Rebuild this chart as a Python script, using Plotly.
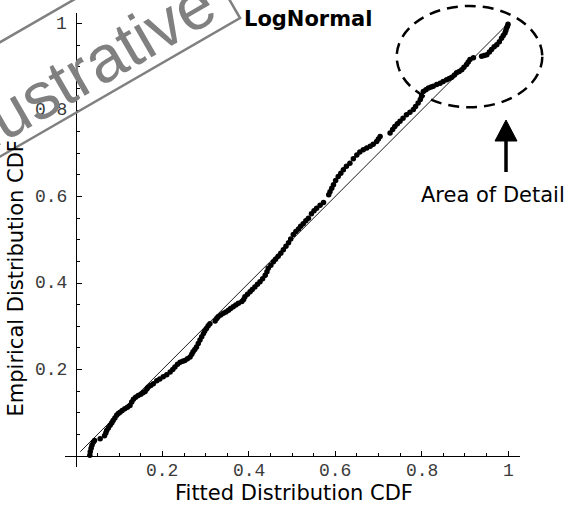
import plotly.graph_objects as go

# Probability-probability plot: empirical CDF vs fitted LogNormal CDF
fitted_cdf = [
    0.032, 0.033, 0.035, 0.037, 0.040, 0.043, 0.056, 0.066, 0.069, 0.071,
    0.075, 0.079, 0.083, 0.086, 0.090, 0.094, 0.098, 0.102, 0.107, 0.113,
    0.119, 0.125, 0.129, 0.133, 0.138, 0.144, 0.150, 0.155, 0.160, 0.164,
    0.167, 0.173, 0.179, 0.187, 0.194, 0.202, 0.210, 0.218, 0.224, 0.229,
    0.235, 0.241, 0.247, 0.252, 0.258, 0.264, 0.268, 0.271, 0.275, 0.279,
    0.283, 0.287, 0.291, 0.295, 0.298, 0.302, 0.306, 0.310,
    0.322, 0.326, 0.329, 0.335, 0.341, 0.347, 0.353, 0.358, 0.364, 0.370,
    0.376, 0.384, 0.388, 0.391, 0.397, 0.403, 0.408, 0.414, 0.420, 0.426,
    0.432, 0.438, 0.442, 0.445, 0.451, 0.457, 0.462, 0.468, 0.474, 0.480,
    0.486, 0.492, 0.497, 0.503, 0.509, 0.515, 0.520, 0.526, 0.532, 0.538,
    0.545, 0.551, 0.557, 0.565, 0.573,
    0.585, 0.588, 0.592, 0.596, 0.601, 0.607, 0.613, 0.619, 0.626, 0.634,
    0.642, 0.650, 0.657, 0.665, 0.673, 0.681, 0.688, 0.696, 0.700, 0.704,
    0.727, 0.733, 0.738, 0.744, 0.750, 0.757, 0.765, 0.773, 0.781, 0.786,
    0.792, 0.797, 0.800, 0.804, 0.810, 0.816, 0.822, 0.827, 0.835, 0.843,
    0.850, 0.858, 0.864, 0.870, 0.876, 0.881, 0.887, 0.893, 0.898, 0.904,
    0.908, 0.912, 0.920,
    0.939, 0.945, 0.951, 0.957, 0.962, 0.968, 0.974, 0.980, 0.985, 0.989,
    0.993, 0.995, 0.997, 0.999, 1.000,
]
empirical_cdf = [
    0.002, 0.010, 0.018, 0.025, 0.032, 0.036, 0.040, 0.047, 0.053, 0.059,
    0.065, 0.071, 0.077, 0.082, 0.088, 0.094, 0.098, 0.101, 0.105, 0.109,
    0.113, 0.117, 0.125, 0.131, 0.136, 0.140, 0.143, 0.146, 0.149, 0.155,
    0.159, 0.163, 0.167, 0.174, 0.178, 0.183, 0.188, 0.194, 0.200, 0.206,
    0.212, 0.217, 0.219, 0.221, 0.225, 0.229, 0.235, 0.241, 0.246, 0.252,
    0.260, 0.268, 0.276, 0.283, 0.289, 0.295, 0.301, 0.306,
    0.312, 0.318, 0.322, 0.326, 0.330, 0.333, 0.337, 0.341, 0.345, 0.349,
    0.353, 0.357, 0.362, 0.368, 0.374, 0.380, 0.385, 0.391, 0.397, 0.403,
    0.410, 0.418, 0.426, 0.434, 0.441, 0.449, 0.455, 0.462, 0.469, 0.477,
    0.485, 0.493, 0.502, 0.512, 0.519, 0.525, 0.531, 0.537, 0.544, 0.550,
    0.560, 0.567, 0.573, 0.580, 0.586,
    0.604, 0.611, 0.619, 0.627, 0.637, 0.646, 0.654, 0.662, 0.670, 0.677,
    0.687, 0.696, 0.703, 0.708, 0.712, 0.716, 0.721, 0.727, 0.733, 0.739,
    0.747, 0.755, 0.762, 0.768, 0.774, 0.781, 0.789, 0.795, 0.801, 0.808,
    0.816, 0.824, 0.832, 0.843, 0.847, 0.851, 0.853, 0.855, 0.859, 0.862,
    0.866, 0.870, 0.873, 0.876, 0.881, 0.886, 0.889, 0.893, 0.899, 0.905,
    0.911, 0.917, 0.921,
    0.924, 0.926, 0.928, 0.934, 0.940, 0.946, 0.951, 0.958, 0.966, 0.972,
    0.978, 0.984, 0.990, 0.994, 0.998,
]

# Reference diagonal (perfect fit)
diag_x = [0.01, 1.0]
diag_y = [0.01, 1.0]

tick_vals = [0.2, 0.4, 0.6, 0.8, 1.0]
tick_text = ["0.2", "0.4", "0.6", "0.8", "1"]
minor_vals = [0.05, 0.10, 0.15, 0.25, 0.30, 0.35, 0.45, 0.50, 0.55,
              0.65, 0.70, 0.75, 0.85, 0.90, 0.95]

W, H = 571, 507
ML, MR, MT, MB = 65, 51, 13, 40
PW, PH = W - ML - MR, H - MT - MB


def pxx(x):
    return (x - ML) / PW


def pxy(y):
    return (H - MB - y) / PH


TEXT_FONT = "DejaVu Sans"
MONO_FONT = "Liberation Mono"
TICK_FONT = dict(family=MONO_FONT, size=18, color="#3a3a3a")

fig = go.Figure()
fig.add_trace(go.Scatter(
    x=diag_x, y=diag_y, mode="lines",
    line=dict(color="black", width=0.9), hoverinfo="skip", showlegend=False,
))
fig.add_trace(go.Scatter(
    x=fitted_cdf, y=empirical_cdf, mode="markers",
    marker=dict(color="black", size=5.5, line=dict(width=0)),
    showlegend=False,
))

axis_common = dict(
    showgrid=False, zeroline=False, showline=True, linecolor="black",
    linewidth=1, ticks="inside", ticklen=5, tickwidth=1, tickcolor="black",
    tickmode="array", tickvals=tick_vals, showticklabels=False,
    minor=dict(tickmode="array", tickvals=minor_vals, ticks="inside",
               ticklen=3, tickwidth=1, tickcolor="black"),
    anchor="free",
)

fig.update_layout(
    width=W, height=H,
    margin=dict(l=ML, r=MR, t=MT, b=MB, pad=0),
    paper_bgcolor="white", plot_bgcolor="white",
    xaxis=dict(range=[-0.02546, 1.02778], position=(H - MB - 456) / PH,
               **axis_common),
    yaxis=dict(range=[-0.02543, 1.02428], position=pxx(76),
               **axis_common),
    showlegend=False,
)

annotations = []
# tick labels placed on the axes that cross at the origin
for v, t in zip(tick_vals, tick_text):
    annotations.append(dict(text=t, x=v, y=0, xref="x", yref="y",
                            yshift=-15, xanchor="center", yanchor="middle",
                            showarrow=False, font=TICK_FONT))
    annotations.append(dict(text=t, x=0, y=v, xref="x", yref="y",
                            xshift=-7, xanchor="right", yanchor="middle",
                            showarrow=False, font=TICK_FONT))

labels = [
    dict(text="<b>LogNormal</b>", x=pxx(308), y=pxy(19),
         font=dict(family=TEXT_FONT, size=21, color="black")),
    dict(text="Fitted Distribution CDF", x=pxx(293.5), y=pxy(493),
         font=dict(family=TEXT_FONT, size=21, color="black")),
    dict(text="Empirical Distribution CDF", x=pxx(15.5), y=pxy(279),
         textangle=-90, font=dict(family=TEXT_FONT, size=21, color="black")),
    dict(text="Area of Detail", x=pxx(493), y=pxy(195),
         font=dict(family=TEXT_FONT, size=21, color="black")),
    dict(text="Illustrative", x=pxx(80), y=pxy(72), textangle=-30,
         font=dict(family="Liberation Sans", size=66, color="#808080")),
]
for a in labels:
    a.update(xref="paper", yref="paper", showarrow=False,
             xanchor="center", yanchor="middle")
annotations += labels
fig.update_layout(annotations=annotations)

# corners of the tilted watermark frame
frame = [(240, 18), (190.5, -67.7), (-138.5, 122.3), (-89, 208)]
frame_path = "M " + " L ".join(f"{pxx(a)} {pxy(b)}" for a, b in frame) + " Z"

shapes = [
    dict(type="path", xref="paper", yref="paper", path=frame_path,
         line=dict(color="#808080", width=2.5)),
    # dashed ellipse around the upper tail
    dict(type="circle", xref="paper", yref="paper",
         x0=pxx(396.7), x1=pxx(542.3), y0=pxy(107.3), y1=pxy(6),
         line=dict(color="black", width=2.5, dash="11px,7px")),
    # arrow shaft
    dict(type="line", xref="paper", yref="paper",
         x0=pxx(506), x1=pxx(506), y0=pxy(172), y1=pxy(138),
         line=dict(color="black", width=3.5)),
    # arrow head
    dict(type="path", xref="paper", yref="paper",
         path=f"M {pxx(495)} {pxy(141)} L {pxx(517)} {pxy(141)} "
              f"L {pxx(506)} {pxy(120)} Z",
         fillcolor="black", line=dict(color="black", width=1)),
]
fig.update_layout(shapes=shapes)

fig.write_html("out.html", config={"displayModeBar": False})
